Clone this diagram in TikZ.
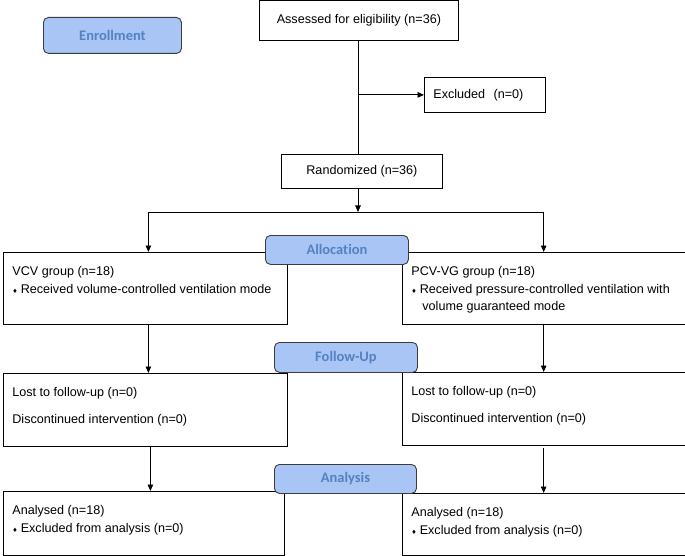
\documentclass[tikz,border=0pt]{standalone}
\usepackage{fontspec}
\setmainfont{Liberation Sans}
\newfontfamily\stagefont[Ligatures=NoCommon]{Carlito}
\newfontfamily\symfont{DejaVu Sans}
\usepackage{xcolor}
\usetikzlibrary{arrows.meta,positioning}
\definecolor{stageFill}{RGB}{168,197,246}
\definecolor{stageText}{RGB}{84,130,192}
\definecolor{stageEdge}{RGB}{60,60,60}
\newcommand{\dmd}{{\symfont\fontsize{6}{6}\selectfont ♦}\hspace{3pt}}
\newcommand{\boxtext}[3]{\parbox[c][#1][t]{#2}{\raggedright #3}}

\begin{document}
\begin{tikzpicture}[x=1pt,y=-1pt,
    flowbox/.style={draw, line width=0.8pt, anchor=north west, inner xsep=9pt, inner ysep=14pt,
        font=\fontsize{12.6}{17.5}\selectfont},
    stage/.style={draw=stageEdge, line width=0.9pt, fill=stageFill, rounded corners=5pt,
        text=stageText, anchor=north west, inner sep=0pt, font=\stagefont\bfseries\fontsize{14.5}{14.5}\selectfont},
    link/.style={line width=0.9pt},
    arr/.style={link, -{Triangle[length=6.5pt,width=5.5pt]}}]
    \useasboundingbox (0,0) rectangle (685,556);

    % enrollment
    \node[flowbox, inner ysep=0pt, minimum width=199pt, minimum height=40pt] (assess) at (259,0) {Assessed for eligibility (n=36)};
    \node[flowbox, inner ysep=0pt, text width=103pt, minimum height=35pt] (excl) at (424,77) {Excluded~~(n=0)};
    \node[flowbox, inner ysep=0pt, minimum width=161pt, minimum height=34pt] (rand) at (281,154) {Randomized (n=36)};

    % allocation
    \node[flowbox] (vcv) at (3,252) {\boxtext{44pt}{266pt}{VCV group (n=18)\\
        \dmd Received volume-controlled ventilation mode}};
    \node[flowbox] (pcv) at (402,252) {\boxtext{44pt}{264.5pt}{PCV-VG group (n=18)\\
        \dmd Received pressure-controlled ventilation with\\\hspace*{11pt}volume guaranteed mode}};

    % follow-up
    \node[flowbox] (lostL) at (3,373) {\boxtext{45pt}{266pt}{Lost to follow-up (n=0)\\[9.5pt]
        Discontinued intervention (n=0)}};
    \node[flowbox] (lostR) at (402,372) {\boxtext{45pt}{264.5pt}{Lost to follow-up (n=0)\\[9.5pt]
        Discontinued intervention (n=0)}};

    % analysis
    \node[flowbox] (anaL) at (3,491) {\boxtext{36pt}{263pt}{Analysed (n=18)\\
        \dmd Excluded from analysis (n=0)}};
    \node[flowbox] (anaR) at (402,493) {\boxtext{34pt}{264.5pt}{Analysed (n=18)\\
        \dmd Excluded from analysis (n=0)}};

    % connectors
    \coordinate (split) at (358,212);
    \draw[link] (assess.south -| split) -- (rand.north -| split);
    \draw[arr] (split |- excl.west) -- (excl.west);
    \draw[arr] (rand.south -| split) -- (split);
    \draw[arr] (split) -| ([xshift=3pt]vcv.north);
    \draw[arr] (split) -| (pcv.north);
    \draw[arr] ([xshift=3pt]vcv.south) -- ([xshift=3pt]vcv.south |- lostL.north);
    \draw[arr] (pcv.south) -- (pcv.south |- lostR.north);
    \draw[arr] ([xshift=5pt]lostL.south) -- ([xshift=5pt]lostL.south |- anaL.north);
    \draw[arr] ([yshift=-2pt]lostR.south) -- (lostR.south |- anaR.north);

    % stage labels
    \node[stage, minimum width=138pt, minimum height=36pt] (enrol) at (43,17) {Enrollment};
    \node[stage, minimum width=143pt, minimum height=29pt] (alloc) at (265,235) {Allocation};
    \node[stage, minimum width=143pt, minimum height=30pt] (follow) at (274,342) {Follow-Up};
    \node[stage, minimum width=142pt, minimum height=29pt] (analy) at (274,464) {Analysis};
\end{tikzpicture}
\end{document}
